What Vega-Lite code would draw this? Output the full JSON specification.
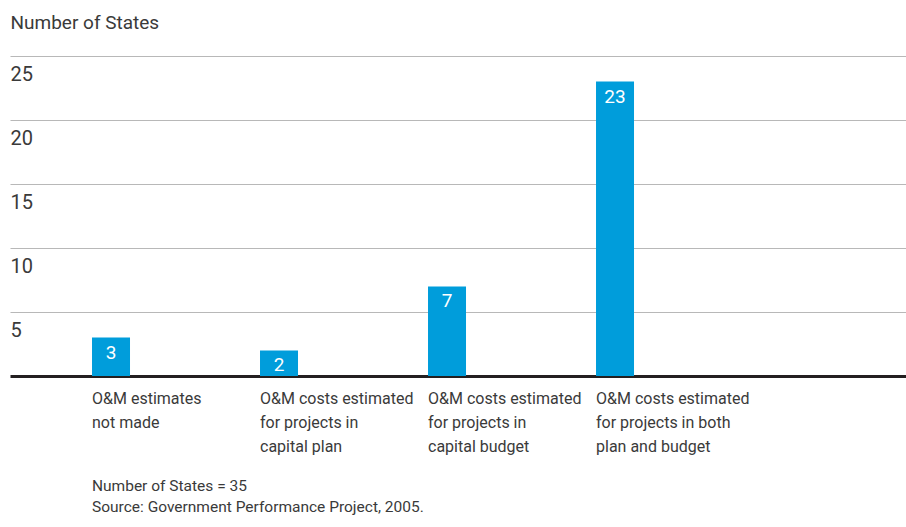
{
  "$schema": "https://vega.github.io/schema/vega-lite/v6.json",
  "width": 896,
  "height": 320,
  "autosize": "none",
  "padding": {"left": 10, "top": 56, "right": 0, "bottom": 151},
  "background": "white",
  "config": {
    "font": "Roboto, sans-serif",
    "view": {"stroke": null}
  },
  "title": {
    "text": ["Number of States = 35", "Source: Government Performance Project, 2005."],
    "orient": "bottom",
    "anchor": "start",
    "frame": "group",
    "dx": 82,
    "offset": 25,
    "baseline": "top",
    "fontSize": 15.5,
    "fontWeight": "normal",
    "lineHeight": 20.5,
    "color": "#3a3a3a"
  },
  "data": {
    "values": [
      {"category": "O&M estimates|not made", "states": 3},
      {"category": "O&M costs estimated|for projects in|capital plan", "states": 2},
      {"category": "O&M costs estimated|for projects in|capital budget", "states": 7},
      {"category": "O&M costs estimated|for projects in both|plan and budget", "states": 23}
    ]
  },
  "encoding": {
    "x": {
      "field": "category",
      "type": "nominal",
      "sort": null,
      "scale": {"paddingInner": 0.6667, "paddingOuter": 1, "align": 0.2173},
      "axis": {
        "title": null,
        "labelAlign": "left",
        "labelBaseline": "top",
        "labelPadding": 14,
        "labelOffset": -19,
        "labelAngle": 0,
        "labelFontSize": 16,
        "labelLineHeight": 24,
        "labelColor": "#3a3a3a",
        "labelLimit": 0,
        "labelExpr": "split(datum.label, '|')",
        "ticks": false,
        "tickSize": 0,
        "domain": true,
        "domainColor": "#231f20",
        "domainWidth": 3,
        "grid": false
      }
    },
    "y": {
      "field": "states",
      "type": "quantitative",
      "scale": {"domain": [0, 25], "nice": false},
      "axis": {
        "title": "Number of States",
        "titleAngle": 0,
        "titleAlign": "left",
        "titleBaseline": "alphabetic",
        "titleX": 0,
        "titleY": -28,
        "titleFontSize": 19,
        "titleFontWeight": "normal",
        "titleColor": "#3a3a3a",
        "values": [5, 10, 15, 20, 25],
        "domain": false,
        "ticks": false,
        "tickSize": 0,
        "labelAlign": "left",
        "labelBaseline": "top",
        "labelPadding": 0,
        "labelOffset": 8,
        "labelFontSize": 20,
        "labelColor": "#3a3a3a",
        "grid": true,
        "gridColor": "#b8b8b8",
        "gridWidth": 1.2
      }
    }
  },
  "layer": [
    {"mark": {"type": "bar", "color": "#009ddb", "width": 38}},
    {
      "mark": {"type": "text", "color": "white", "baseline": "top", "align": "center", "dy": 6, "fontSize": 19},
      "encoding": {"text": {"field": "states", "type": "quantitative"}}
    }
  ]
}
